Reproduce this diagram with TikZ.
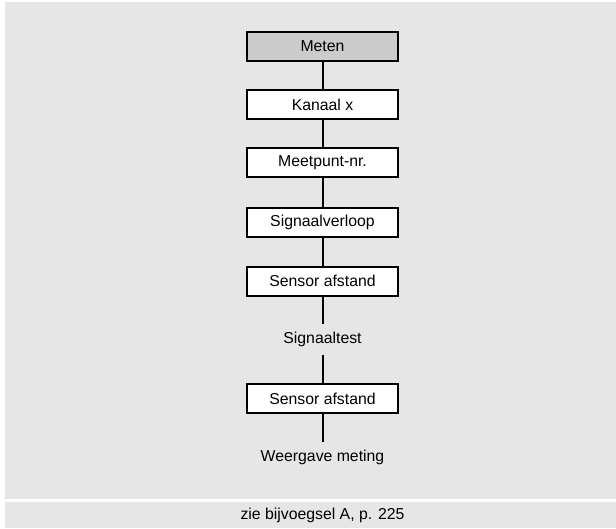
\documentclass[tikz,border=0pt]{standalone}
\usepackage{fontspec}
\setmainfont{Liberation Sans}
\definecolor{panelgray}{HTML}{E6E6E6}
\definecolor{headgray}{HTML}{CCCCCC}
\begin{document}
\begin{tikzpicture}[x=1pt, y=-1pt, line width=2pt,
  font=\fontsize{15.8}{19}\selectfont,
  stepbox/.style={draw, fill=white, minimum width=151pt, minimum height=29pt, inner sep=0pt},
  steptext/.style={minimum height=29pt, inner sep=0pt}]
  \useasboundingbox (0,0) rectangle (616,528);
  \fill[panelgray] (5,2) rectangle (616,499);
  \fill[panelgray] (5,502) rectangle (616,528);
  \def\X{322.5}
  \node[stepbox, fill=headgray] (meten) at (\X,46.5) {Meten};
  \node[stepbox] (kanaal)  at (\X,104.5) {Kanaal x};
  \node[stepbox] (meetpunt) at (\X,162.5) {Meetpunt-nr.};
  \node[stepbox] (verloop) at (\X,222) {Signaalverloop};
  \node[stepbox] (sensora) at (\X,281) {Sensor afstand};
  \node[steptext] (test)   at (\X,339) {Signaaltest};
  \node[stepbox] (sensorb) at (\X,398.5) {Sensor afstand};
  \node[steptext] (weergave) at (\X,457) {Weergave meting};
  \node (bijlage) at (\X,515) {zie bijvoegsel A, p. 225};
  \draw (meten) -- (kanaal);
  \draw (kanaal) -- (meetpunt);
  \draw (meetpunt) -- (verloop);
  \draw (verloop) -- (sensora);
  \draw (sensora) -- (test);
  \draw (test) -- (sensorb);
  \draw (sensorb) -- (weergave);
\end{tikzpicture}
\end{document}
